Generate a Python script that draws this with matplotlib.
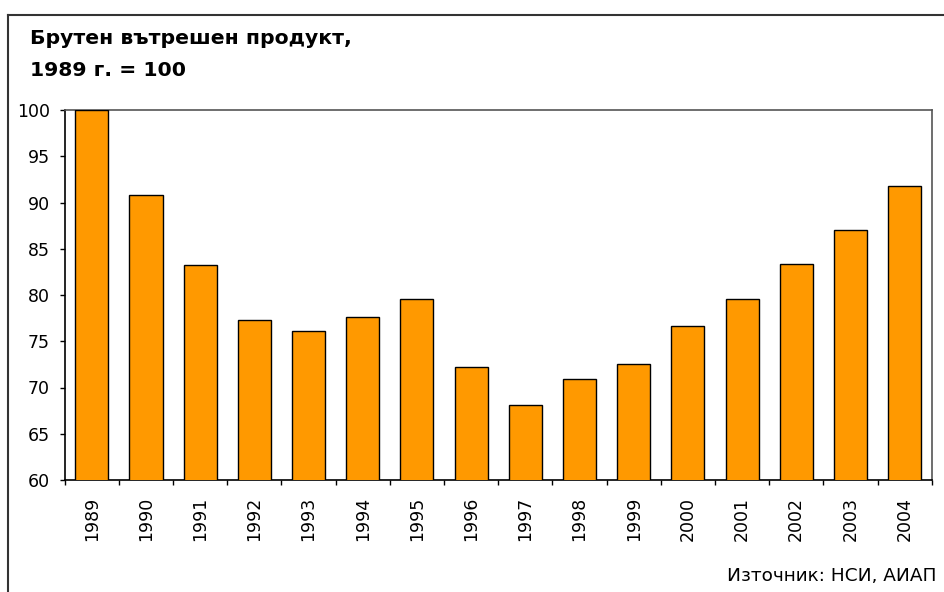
import matplotlib
matplotlib.use("Agg")
import matplotlib.pyplot as plt
from matplotlib.lines import Line2D
import numpy as np

years = ["1989", "1990", "1991", "1992", "1993", "1994", "1995", "1996",
         "1997", "1998", "1999", "2000", "2001", "2002", "2003", "2004"]
gdp_index = [100.0, 90.8, 83.2, 77.3, 76.1, 77.6, 79.6, 72.2,
             68.1, 70.9, 72.5, 76.6, 79.6, 83.4, 87.0, 91.8]
y_ticks = [60, 65, 70, 75, 80, 85, 90, 95, 100]

title_line1 = "Брутен вътрешен продукт,"
title_line2 = "1989 г. = 100"
source_text = "Източник: НСИ, АИАП"

plt.rcParams['font.family'] = ['DejaVu Sans']

fig = plt.figure(figsize=(9.45, 5.92), dpi=100)
ax = fig.add_axes([64.7/945, 1-480/592, (931.7-64.7)/945, (480-110)/592])

x = np.arange(len(years))
ax.bar(x, gdp_index, width=0.61, color="#FF9900", edgecolor="black", linewidth=1.0, zorder=3)

ax.set_ylim(60, 100)
ax.set_xlim(-0.5, len(years) - 0.5)
ax.set_yticks(y_ticks)
ax.set_yticklabels([str(t) for t in y_ticks], fontsize=12.5)
ax.set_xticks(x)
ax.set_xticklabels(years, rotation=90, fontsize=12.5)
ax.set_xticks(np.arange(-0.5, len(years), 1.0), minor=True)
ax.tick_params(axis='x', which='major', length=0, pad=12)
ax.tick_params(axis='x', which='minor', length=3.5, width=1, direction='out')
ax.tick_params(axis='y', length=3.5, width=1, direction='out', pad=7)

for side in ["left", "bottom"]:
    ax.spines[side].set_color("black")
    ax.spines[side].set_linewidth(1.2)
for side in ["top", "right"]:
    ax.spines[side].set_color("#555555")
    ax.spines[side].set_linewidth(1.2)

fig.text(30/945, 1-38/592, title_line1, fontsize=14.7, fontweight="bold", va="center", ha="left")
fig.text(30/945, 1-71/592, title_line2, fontsize=14.7, fontweight="bold", va="center", ha="left")
fig.text(937/945, 1-576/592, source_text, fontsize=13.3, va="center", ha="right")

fig.add_artist(Line2D([8/945, 8/945], [0, 1-15/592], transform=fig.transFigure, color="#333333", linewidth=1.5))
fig.add_artist(Line2D([8/945, 1], [1-15/592, 1-15/592], transform=fig.transFigure, color="#333333", linewidth=1.5))

fig.savefig("out.png", dpi=100)
